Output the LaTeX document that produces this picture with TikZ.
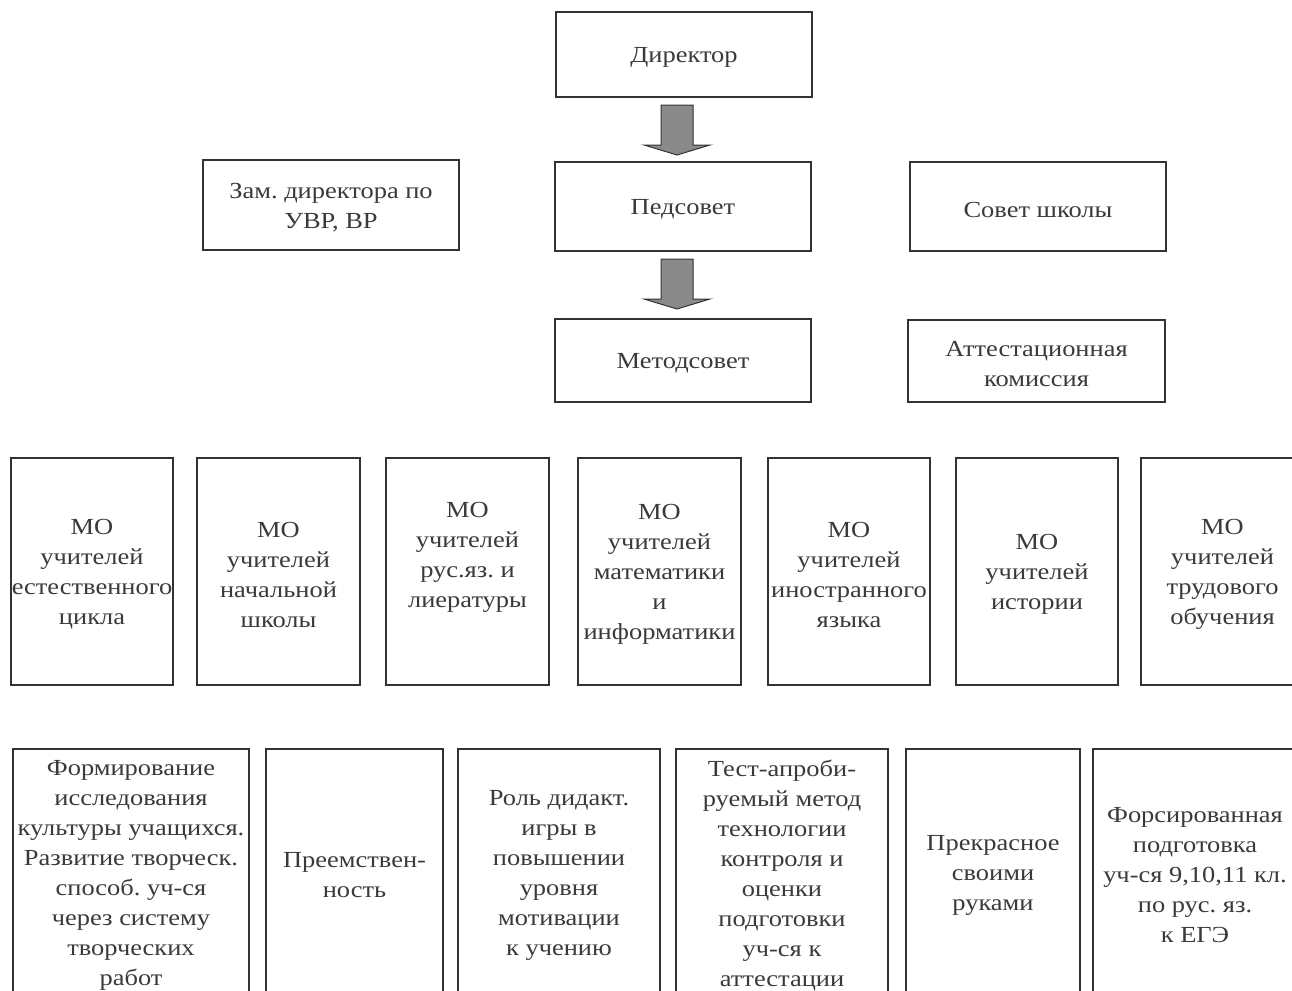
\documentclass[tikz,border=0pt]{standalone}
\usepackage{fontspec}
\setmainfont[FakeStretch=1.15]{Liberation Serif}
\definecolor{txt}{HTML}{3A3A3A}
\definecolor{edge}{HTML}{333333}
\definecolor{arrfill}{HTML}{8A8A8A}
\tikzset{
  box/.style={draw=edge, line width=1.3pt, fill=white, inner sep=0pt},
  lbl/.style={text=txt, align=center, inner sep=0pt, yshift=-3pt,
    font=\fontsize{23}{30}\selectfont},
  bigarrow/.style={draw=edge, line width=1pt, fill=arrfill}
}
\newcommand{\bx}[6]{% name, x1, y1, x2, y2, text
  \node[box, minimum width={(#4-#2)*1pt}, minimum height={(#5-#3)*1pt},
    label={[lbl]center:{#6}}] (#1) at ({(#2+#4)/2},{(#3+#5)/2}) {};}
\begin{document}
\frenchspacing
\begin{tikzpicture}[x=1pt,y=-1pt]
\clip (0,0) rectangle (1292,990);
\fill[white] (0,0) rectangle (1292,990);
% top
\bx{dir}{556}{12}{812}{97}{Директор}
\bx{ped}{555}{162}{811}{251}{Педсовет}
\bx{met}{555}{319}{811}{402}{Методсовет}
\bx{zam}{203}{160}{459}{250}{Зам. директора по\\УВР, ВР}
\bx{sov}{910}{162}{1166}{251}{Совет школы}
\bx{att}{908}{320}{1165}{402}{Аттестационная\\комиссия}
% arrows
\path[bigarrow] (661,105) -- (693,105) -- (693,145) -- (710,145) -- (677,155) -- (644,145) -- (661,145) -- cycle;
\path[bigarrow] (661,259) -- (693,259) -- (693,299) -- (710,299) -- (677,309) -- (644,299) -- (661,299) -- cycle;
% MO row
\bx{mo1}{11}{458}{173}{685}{МО\\учителей\\естественного\\цикла}
\bx{mo2}{197}{458}{360}{685}{МО\\учителей\\начальной\\школы}
\bx{mo3}{386}{458}{549}{685}{МО\\учителей\\рус.яз. и\\лиературы\\\strut}
\bx{mo4}{578}{458}{741}{685}{МО\\учителей\\математики\\и\\информатики}
\bx{mo5}{768}{458}{930}{685}{МО\\учителей\\иностранного\\языка}
\bx{mo6}{956}{458}{1118}{685}{МО\\учителей\\истории}
\bx{mo7}{1141}{458}{1304}{685}{МО\\учителей\\трудового\\обучения}
% bottom row
\bx{t1}{13}{749}{249}{996}{Формирование\\исследования\\культуры учащихся.\\Развитие творческ.\\способ. уч-ся\\через систему\\творческих\\работ}
\bx{t2}{266}{749}{443}{996}{Преемствен-\\ность}
\bx{t3}{458}{749}{660}{996}{Роль дидакт.\\игры в\\повышении\\уровня\\мотивации\\к учению}
\bx{t4}{676}{749}{888}{996}{Тест-апроби-\\руемый метод\\технологии\\контроля и\\оценки\\подготовки\\уч-ся к\\аттестации}
\bx{t5}{906}{749}{1080}{996}{Прекрасное\\своими\\руками}
\bx{t6}{1093}{749}{1297}{996}{Форсированная\\подготовка\\уч-ся 9,10,11 кл.\\по рус. яз.\\к ЕГЭ}
\end{tikzpicture}
\end{document}
